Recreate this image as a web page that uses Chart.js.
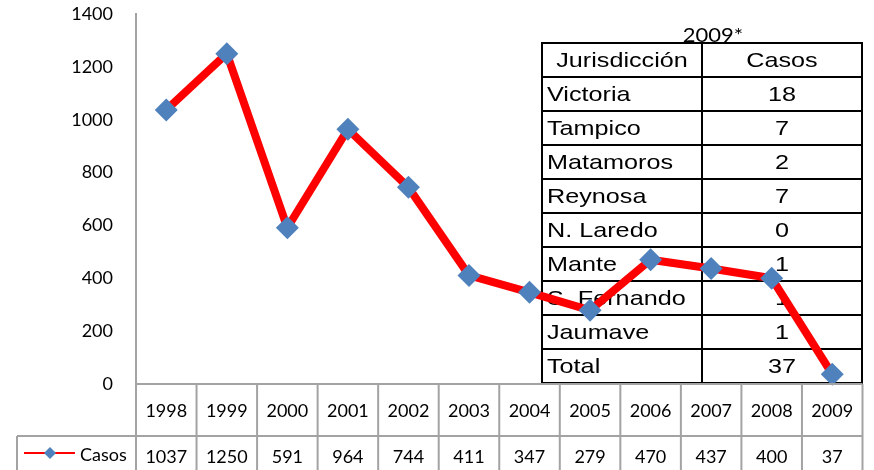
<!DOCTYPE html>
<html>
<head>
<meta charset="utf-8">
<script src="https://cdn.jsdelivr.net/npm/chart.js@4"></script>
<style>
  html, body { margin: 0; padding: 0; background: #fff; }
  #wrap { width: 874px; height: 470px; }
</style>
</head>
<body>
<div id="wrap"><canvas id="canvas" width="874" height="470"></canvas></div>
<script>
// yearly cases
const years = ['1998', '1999', '2000', '2001', '2002', '2003', '2004', '2005', '2006', '2007', '2008', '2009'];
const casos = [1037, 1250, 591, 964, 744, 411, 347, 279, 470, 437, 400, 37];
const seriesName = 'Casos';

// 2009 breakdown table
const tableTitle = '2009*';
const tableHeader = ['Jurisdicción', 'Casos'];
const jurisdicciones = ['Victoria', 'Tampico', 'Matamoros', 'Reynosa', 'N. Laredo', 'Mante', 'S. Fernando', 'Jaumave', 'Total'];
const casosJuris = [18, 7, 2, 7, 0, 1, 1, 1, 37];

const yTicks = [0, 200, 400, 600, 800, 1000, 1200, 1400];

const RED = '#ff0000';
const BLUE = '#4f81bd';
const GRID = '#a3a3a3';
const TICK_FONT = 'Lato, "Open Sans", sans-serif';
const TABLE_FONT = '"Liberation Sans", Arial, sans-serif';

function stretchText(ctx, text, x, y, sx) {
    ctx.save();
    ctx.translate(x, y);
    ctx.scale(sx, 1);
    ctx.fillText(text, 0, 0);
    ctx.restore();
}

// data table under the plot (Excel style)
const dataTablePlugin = {
    id: 'dataTable',
    afterDraw(chart) {
        const ctx = chart.ctx;
        const xs = chart.scales.x;
        const area = chart.chartArea;
        const step = area.width / years.length;
        const top = area.bottom;
        const mid = top + 52;
        const bot = chart.height + 2;
        ctx.save();
        ctx.strokeStyle = GRID;
        ctx.lineWidth = 2;
        ctx.beginPath();
        ctx.moveTo(area.left, top); ctx.lineTo(area.right, top);
        ctx.moveTo(17, mid); ctx.lineTo(area.right, mid);
        ctx.moveTo(17, mid); ctx.lineTo(17, bot);
        ctx.moveTo(area.left, top); ctx.lineTo(area.left, bot);
        for (let i = 0; i < years.length; i++) {
            const r = xs.getPixelForValue(i) + step / 2;
            ctx.moveTo(r, top); ctx.lineTo(r, bot);
        }
        ctx.stroke();

        ctx.fillStyle = '#000';
        ctx.font = '18px ' + TICK_FONT;
        ctx.textAlign = 'center';
        ctx.textBaseline = 'middle';
        for (let i = 0; i < years.length; i++) {
            const cx = xs.getPixelForValue(i);
            ctx.fillText(years[i], cx, top + 27);
            ctx.fillText(String(casos[i]), cx, mid + 21);
        }
        // legend key
        ctx.strokeStyle = RED;
        ctx.lineWidth = 2;
        ctx.beginPath();
        ctx.moveTo(24, mid + 17); ctx.lineTo(75, mid + 17);
        ctx.stroke();
        ctx.fillStyle = BLUE;
        ctx.beginPath();
        ctx.moveTo(50, mid + 11); ctx.lineTo(56, mid + 17); ctx.lineTo(50, mid + 23); ctx.lineTo(44, mid + 17);
        ctx.closePath();
        ctx.fill();
        ctx.fillStyle = '#000';
        ctx.textAlign = 'left';
        ctx.fillText(seriesName, 80, mid + 19);
        ctx.restore();
    }
};

// the 2009* box drawn over the plot
const juriTablePlugin = {
    id: 'juriTable',
    beforeDatasetsDraw(chart) {
        const ctx = chart.ctx;
        const left = 542, right = 862, split = 702, top = 43, rowH = 34;
        const nRows = jurisdicciones.length + 1;
        ctx.save();
        ctx.fillStyle = '#000';
        ctx.textAlign = 'center';
        ctx.textBaseline = 'alphabetic';
        ctx.font = '20px ' + TICK_FONT;
        stretchText(ctx, tableTitle, 713, 42, 1.1);

        ctx.strokeStyle = '#000';
        ctx.lineWidth = 2;
        ctx.beginPath();
        ctx.rect(left, top, right - left, rowH * nRows);
        ctx.moveTo(split, top); ctx.lineTo(split, top + rowH * nRows);
        for (let i = 1; i < nRows; i++) {
            ctx.moveTo(left, top + rowH * i); ctx.lineTo(right, top + rowH * i);
        }
        ctx.stroke();

        ctx.font = '21px ' + TABLE_FONT;
        ctx.textBaseline = 'middle';
        ctx.textAlign = 'center';
        stretchText(ctx, tableHeader[0], (left + split) / 2, top + rowH / 2 + 1, 1.2);
        stretchText(ctx, tableHeader[1], (split + right) / 2, top + rowH / 2 + 1, 1.2);
        for (let i = 0; i < jurisdicciones.length; i++) {
            const cy = top + rowH * (i + 1) + rowH / 2 + 1;
            ctx.textAlign = 'left';
            stretchText(ctx, jurisdicciones[i], left + 5, cy, 1.2);
            ctx.textAlign = 'center';
            stretchText(ctx, String(casosJuris[i]), (split + right) / 2, cy, 1.2);
        }
        ctx.restore();
    }
};

const ctx = document.getElementById('canvas').getContext('2d');
const myChart = new Chart(ctx, {
    type: 'line',
    data: {
        labels: years,
        datasets: [{
            label: seriesName,
            data: casos,
            borderColor: RED,
            borderWidth: 8,
            tension: 0,
            pointStyle: 'rectRot',
            pointRadius: 11.5,
            pointHoverRadius: 11.5,
            pointBackgroundColor: BLUE,
            pointBorderColor: BLUE,
            pointBorderWidth: 0,
            clip: false
        }]
    },
    options: {
        responsive: false,
        animation: false,
        events: [],
        layout: { padding: { left: 0, right: 11, top: 14, bottom: 86 } },
        plugins: {
            legend: { display: false },
            tooltip: { enabled: false }
        },
        scales: {
            x: {
                display: false,
                offset: true
            },
            y: {
                min: 0,
                max: 1400,
                afterBuildTicks(scale) {
                    scale.ticks = yTicks.map(v => ({ value: v }));
                },
                afterFit(scale) {
                    scale.width = 136;
                    scale.paddingTop = 0;
                    scale.paddingBottom = 0;
                },
                grid: { display: false, drawTicks: false },
                border: { display: true, color: GRID, width: 2 },
                ticks: {
                    padding: 23,
                    color: '#000',
                    font: { family: TICK_FONT, size: 18 },
                    callback: v => String(v)
                }
            }
        }
    },
    plugins: [juriTablePlugin, dataTablePlugin]
});
</script>
</body>
</html>
